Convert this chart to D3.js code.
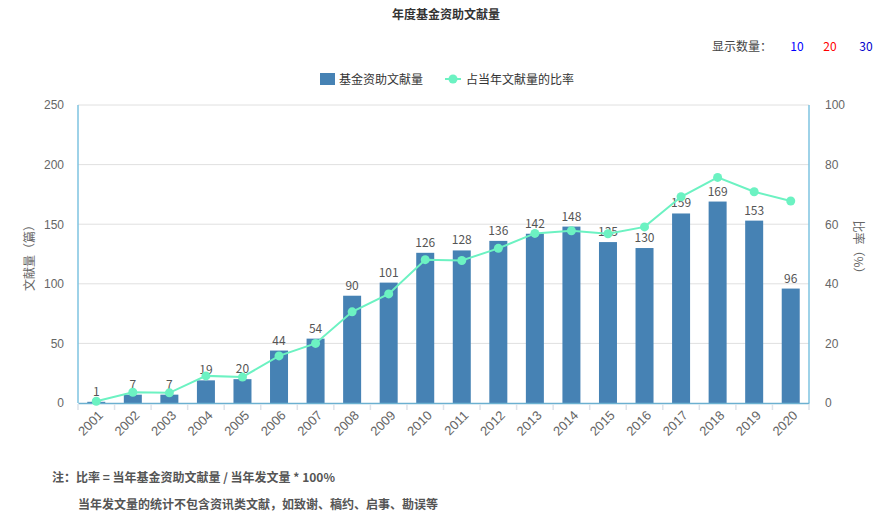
<!DOCTYPE html>
<html><head><meta charset="utf-8">
<script src="https://cdn.jsdelivr.net/npm/d3@7"></script>
<style>body{margin:0;background:#fff;}svg{font-family:"Microsoft YaHei","Noto Sans CJK SC",sans-serif;}</style>
</head><body><svg id="c" width="893" height="525"></svg>
<script>
const years = ["2001","2002","2003","2004","2005","2006","2007","2008","2009","2010","2011","2012","2013","2014","2015","2016","2017","2018","2019","2020"];
const counts = [1,7,7,19,20,44,54,90,101,126,128,136,142,148,135,130,159,169,153,96];
const ratios = [0.6,3.6,3.4,9.1,8.7,15.8,20.0,30.6,36.6,48.1,47.8,51.9,56.9,57.8,56.8,59.1,69.2,75.7,70.9,67.8];
const leftTicks = [0,50,100,150,200,250];
const rightTicks = [0,20,40,60,80,100];

const svg = d3.select("#c");
const L=78, R=809, T=105, B=403;
const x = d3.scaleBand().domain(years).range([L,R]);
const yL = d3.scaleLinear().domain([0,250]).range([B,T]);
const yR = d3.scaleLinear().domain([0,100]).range([B,T]);

svg.append("g").selectAll("line").data(leftTicks.slice(1)).join("line")
  .attr("x1",L).attr("x2",R).attr("y1",d=>yL(d)).attr("y2",d=>yL(d))
  .attr("stroke","#e0e0e0").attr("stroke-width",1);

const bw = 18;
svg.append("g").selectAll("rect").data(counts).join("rect")
  .attr("x",(d,i)=>x(years[i])+x.bandwidth()/2-bw/2)
  .attr("width",bw)
  .attr("y",d=>yL(d)).attr("height",d=>B-yL(d))
  .attr("fill","#4682B4");

svg.append("g").selectAll("text").data(counts).join("text")
  .attr("x",(d,i)=>x(years[i])+x.bandwidth()/2)
  .attr("y",d=>yL(d)-6)
  .attr("text-anchor","middle").attr("font-size",12).attr("fill","#555")
  .text(d=>d);

svg.append("line").attr("x1",L).attr("x2",L).attr("y1",T).attr("y2",B).attr("stroke","#7ec3e0").attr("stroke-width",1.5);
svg.append("line").attr("x1",R).attr("x2",R).attr("y1",T).attr("y2",B).attr("stroke","#7ec3e0").attr("stroke-width",1.5);

const xa = d3.axisBottom(x).tickSize(0).tickFormat(d=>d);
const gx = svg.append("g").attr("transform",`translate(0,${B})`).call(xa);
gx.select(".domain").attr("stroke","#6bb0d0").attr("stroke-width",1.5);
gx.selectAll("text").attr("font-size",13).attr("fill","#666")
  .attr("text-anchor","end").attr("transform","rotate(-45)").attr("dx","-0.3em").attr("dy","0.9em");
svg.append("g").selectAll("line").data(years.concat(["_end"])).join("line")
  .attr("x1",(d,i)=>L+i*x.step()).attr("x2",(d,i)=>L+i*x.step())
  .attr("y1",B+1).attr("y2",B+7).attr("stroke","#dde3ea").attr("stroke-width",1.5);

const gl = svg.append("g").attr("transform",`translate(${L},0)`).call(d3.axisLeft(yL).tickValues(leftTicks).tickSize(0).tickPadding(14));
gl.select(".domain").remove();
gl.selectAll("text").attr("font-size",12).attr("fill","#666");
const gr = svg.append("g").attr("transform",`translate(${R},0)`).call(d3.axisRight(yR).tickValues(rightTicks).tickSize(0).tickPadding(16));
gr.select(".domain").remove();
gr.selectAll("text").attr("font-size",12).attr("fill","#666");

const line = d3.line().x((d,i)=>x(years[i])+x.bandwidth()/2).y(d=>yR(d));
svg.append("path").datum(ratios).attr("d",line).attr("fill","none").attr("stroke","#6cf2c2").attr("stroke-width",2);
svg.append("g").selectAll("circle").data(ratios).join("circle")
  .attr("cx",(d,i)=>x(years[i])+x.bandwidth()/2).attr("cy",d=>yR(d)).attr("r",4.5).attr("fill","#6cf2c2");

svg.append("text").attr("transform","translate(34,255) rotate(-90)").attr("text-anchor","middle")
  .attr("font-size",12).attr("fill","#666").text("文献量（篇）");
svg.append("text").attr("transform","translate(854,250) rotate(90)").attr("text-anchor","middle")
  .attr("font-size",12).attr("fill","#666").text("比率（%）");

svg.append("text").attr("x",446).attr("y",19).attr("text-anchor","middle").attr("font-size",12).attr("font-weight","bold").attr("fill","#333").text("年度基金资助文献量");

svg.append("text").attr("x",772).attr("y",51).attr("text-anchor","end").attr("font-size",12).attr("fill","#444").text("显示数量：");
svg.append("text").attr("x",797).attr("y",51).attr("text-anchor","middle").attr("font-size",12).attr("fill","#0000ff").text("10");
svg.append("text").attr("x",830).attr("y",51).attr("text-anchor","middle").attr("font-size",12).attr("fill","#ff0000").text("20");
svg.append("text").attr("x",866).attr("y",51).attr("text-anchor","middle").attr("font-size",12).attr("fill","#0000cc").text("30");

svg.append("rect").attr("x",320).attr("y",73).attr("width",15).attr("height",12).attr("fill","#4682B4");
svg.append("text").attr("x",339).attr("y",84).attr("font-size",12).attr("fill","#333").text("基金资助文献量");
svg.append("line").attr("x1",445).attr("x2",461).attr("y1",79).attr("y2",79).attr("stroke","#6cf2c2").attr("stroke-width",2);
svg.append("circle").attr("cx",453).attr("cy",79).attr("r",4.5).attr("fill","#6cf2c2");
svg.append("text").attr("x",466).attr("y",84).attr("font-size",12).attr("fill","#333").text("占当年文献量的比率");

svg.append("text").attr("x",52).attr("y",482).attr("font-size",12).attr("font-weight","bold").attr("fill","#555").text("注：比率 = 当年基金资助文献量 / 当年发文量 * 100%");
svg.append("text").attr("x",78).attr("y",509).attr("font-size",12).attr("font-weight","bold").attr("fill","#555").text("当年发文量的统计不包含资讯类文献，如致谢、稿约、启事、勘误等");
</script></body></html>
